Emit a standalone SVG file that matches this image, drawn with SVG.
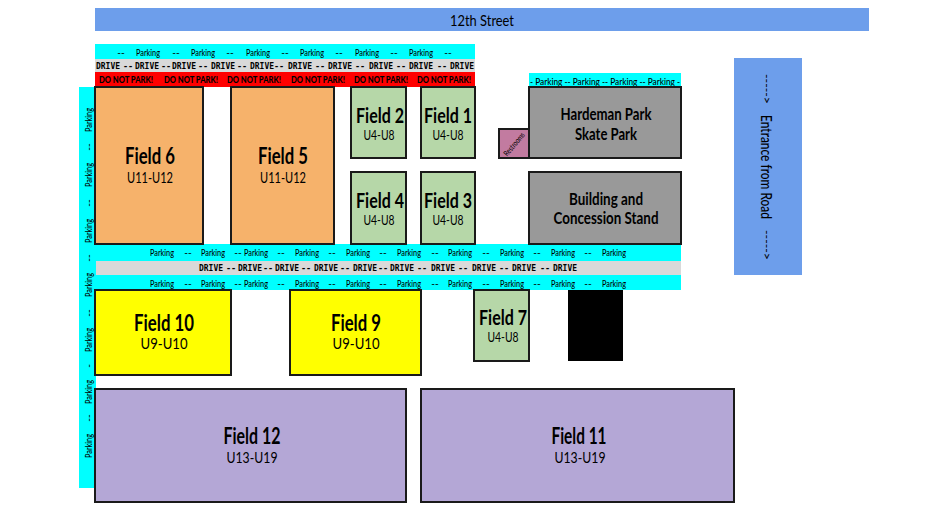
<svg xmlns="http://www.w3.org/2000/svg" width="940" height="516" viewBox="0 0 940 516">
<style>
text{font-family:"Lato","Liberation Sans",sans-serif;text-anchor:middle;dominant-baseline:central;fill:#000}
.f{stroke:#1a1a1a;stroke-width:2}
.t{font-size:22px;font-weight:700}
.t2{font-size:20px;font-weight:700}
.s{font-size:15px}
.s2{font-size:13px}
.p{font-size:10px;font-weight:500}
.d text{font-family:"DejaVu Sans Mono",monospace;font-size:8.500px;font-weight:700}
.n{font-size:9px;font-weight:900}
.h{font-size:17px;font-weight:700}
</style>
<rect width="940" height="516" fill="#fff"/>
<g id="roads">
<rect id="street" x="95" y="8" width="774" height="23" fill="#6d9eeb"/>
<text x="482" y="19" font-size="16" textLength="64" lengthAdjust="spacingAndGlyphs">12th Street</text>
<rect x="95" y="44" width="380" height="15" fill="#0ff"/>
<rect x="95" y="59" width="380" height="13" fill="#d9d9d9"/>
<rect x="95" y="72" width="380" height="15" fill="#f00"/>
<rect x="529" y="73" width="152" height="14" fill="#0ff"/>
<rect x="79" y="87" width="17" height="401" fill="#0ff"/>
<rect x="96" y="244" width="585" height="46" fill="#0ff"/>
<rect x="96" y="261" width="585" height="14" fill="#d9d9d9"/>
</g>
<g id="top-parking" class="p">
<text x="148" y="52" textLength="24" lengthAdjust="spacingAndGlyphs">Parking</text><text x="203" y="52" textLength="24" lengthAdjust="spacingAndGlyphs">Parking</text><text x="258" y="52" textLength="24" lengthAdjust="spacingAndGlyphs">Parking</text><text x="312" y="52" textLength="24" lengthAdjust="spacingAndGlyphs">Parking</text><text x="367" y="52" textLength="24" lengthAdjust="spacingAndGlyphs">Parking</text><text x="421" y="52" textLength="24" lengthAdjust="spacingAndGlyphs">Parking</text>
<text x="121" y="51.500">--</text><text x="176" y="51.500">--</text><text x="230" y="51.500">--</text><text x="285" y="51.500">--</text><text x="339" y="51.500">--</text><text x="394" y="51.500">--</text><text x="448" y="51.500">--</text>
</g>
<g id="top-drive" class="d">
<text x="108" y="65.500" textLength="24" lengthAdjust="spacingAndGlyphs">DRIVE</text><text x="147" y="65.500" textLength="24" lengthAdjust="spacingAndGlyphs">DRIVE</text><text x="184" y="65.500" textLength="24" lengthAdjust="spacingAndGlyphs">DRIVE</text><text x="223" y="65.500" textLength="24" lengthAdjust="spacingAndGlyphs">DRIVE</text><text x="262" y="65.500" textLength="24" lengthAdjust="spacingAndGlyphs">DRIVE</text><text x="300" y="65.500" textLength="24" lengthAdjust="spacingAndGlyphs">DRIVE</text><text x="340" y="65.500" textLength="24" lengthAdjust="spacingAndGlyphs">DRIVE</text><text x="381" y="65.500" textLength="24" lengthAdjust="spacingAndGlyphs">DRIVE</text><text x="421" y="65.500" textLength="24" lengthAdjust="spacingAndGlyphs">DRIVE</text><text x="462" y="65.500" textLength="24" lengthAdjust="spacingAndGlyphs">DRIVE</text>
<text x="128" y="65.500">--</text><text x="166" y="65.500">--</text><text x="203" y="65.500">--</text><text x="242" y="65.500">--</text><text x="279" y="65.500">--</text><text x="320" y="65.500">--</text><text x="360" y="65.500">--</text><text x="401" y="65.500">--</text><text x="442" y="65.500">--</text>
</g>
<g id="no-parking" class="n">
<text x="126" y="79.500" textLength="54" lengthAdjust="spacingAndGlyphs">DO NOT PARK!</text><text x="191" y="79.500" textLength="54" lengthAdjust="spacingAndGlyphs">DO NOT PARK!</text><text x="254" y="79.500" textLength="54" lengthAdjust="spacingAndGlyphs">DO NOT PARK!</text><text x="318" y="79.500" textLength="54" lengthAdjust="spacingAndGlyphs">DO NOT PARK!</text><text x="381" y="79.500" textLength="54" lengthAdjust="spacingAndGlyphs">DO NOT PARK!</text><text x="444" y="79.500" textLength="54" lengthAdjust="spacingAndGlyphs">DO NOT PARK!</text>
</g>
<g id="right-parking" class="p">
<text x="605" y="80.500" textLength="150" lengthAdjust="spacingAndGlyphs">- Parking -- Parking -- Parking -- Parking -</text>
</g>
<g id="left-parking" class="p">
<text transform="translate(88 120) rotate(-90)" textLength="24" lengthAdjust="spacingAndGlyphs">Parking</text><text transform="translate(88 175) rotate(-90)" textLength="24" lengthAdjust="spacingAndGlyphs">Parking</text><text transform="translate(88 231) rotate(-90)" textLength="24" lengthAdjust="spacingAndGlyphs">Parking</text><text transform="translate(88 285) rotate(-90)" textLength="24" lengthAdjust="spacingAndGlyphs">Parking</text><text transform="translate(88 340) rotate(-90)" textLength="24" lengthAdjust="spacingAndGlyphs">Parking</text><text transform="translate(88 392) rotate(-90)" textLength="24" lengthAdjust="spacingAndGlyphs">Parking</text><text transform="translate(88 446) rotate(-90)" textLength="24" lengthAdjust="spacingAndGlyphs">Parking</text>
<text transform="translate(88 147) rotate(-90)">--</text><text transform="translate(88 203) rotate(-90)">--</text><text transform="translate(88 258) rotate(-90)">--</text><text transform="translate(88 313) rotate(-90)">--</text><text transform="translate(88 366) rotate(-90)">-</text><text transform="translate(88 418) rotate(-90)">--</text>
</g>
<g id="middle-parking" class="p">
<text x="162" y="252" textLength="24" lengthAdjust="spacingAndGlyphs">Parking</text><text x="213" y="252" textLength="24" lengthAdjust="spacingAndGlyphs">Parking</text><text x="256" y="252" textLength="24" lengthAdjust="spacingAndGlyphs">Parking</text><text x="307" y="252" textLength="24" lengthAdjust="spacingAndGlyphs">Parking</text><text x="358" y="252" textLength="24" lengthAdjust="spacingAndGlyphs">Parking</text><text x="409" y="252" textLength="24" lengthAdjust="spacingAndGlyphs">Parking</text><text x="460" y="252" textLength="24" lengthAdjust="spacingAndGlyphs">Parking</text><text x="512" y="252" textLength="24" lengthAdjust="spacingAndGlyphs">Parking</text><text x="563" y="252" textLength="24" lengthAdjust="spacingAndGlyphs">Parking</text><text x="614" y="252" textLength="24" lengthAdjust="spacingAndGlyphs">Parking</text>
<text x="188" y="251.500">--</text><text x="238" y="251.500">--</text><text x="281" y="251.500">--</text><text x="332" y="251.500">--</text><text x="383" y="251.500">--</text><text x="435" y="251.500">--</text><text x="486" y="251.500">--</text><text x="537" y="251.500">--</text><text x="588" y="251.500">--</text>
<text x="162" y="283" textLength="24" lengthAdjust="spacingAndGlyphs">Parking</text><text x="213" y="283" textLength="24" lengthAdjust="spacingAndGlyphs">Parking</text><text x="256" y="283" textLength="24" lengthAdjust="spacingAndGlyphs">Parking</text><text x="307" y="283" textLength="24" lengthAdjust="spacingAndGlyphs">Parking</text><text x="358" y="283" textLength="24" lengthAdjust="spacingAndGlyphs">Parking</text><text x="409" y="283" textLength="24" lengthAdjust="spacingAndGlyphs">Parking</text><text x="460" y="283" textLength="24" lengthAdjust="spacingAndGlyphs">Parking</text><text x="512" y="283" textLength="24" lengthAdjust="spacingAndGlyphs">Parking</text><text x="563" y="283" textLength="24" lengthAdjust="spacingAndGlyphs">Parking</text><text x="614" y="283" textLength="24" lengthAdjust="spacingAndGlyphs">Parking</text>
<text x="188" y="282.500">--</text><text x="238" y="282.500">--</text><text x="281" y="282.500">--</text><text x="332" y="282.500">--</text><text x="383" y="282.500">--</text><text x="435" y="282.500">--</text><text x="486" y="282.500">--</text><text x="537" y="282.500">--</text><text x="588" y="282.500">--</text>
</g>
<g id="middle-drive" class="d">
<text x="211" y="268" textLength="24" lengthAdjust="spacingAndGlyphs">DRIVE</text><text x="250" y="268" textLength="24" lengthAdjust="spacingAndGlyphs">DRIVE</text><text x="287" y="268" textLength="24" lengthAdjust="spacingAndGlyphs">DRIVE</text><text x="326" y="268" textLength="24" lengthAdjust="spacingAndGlyphs">DRIVE</text><text x="365" y="268" textLength="24" lengthAdjust="spacingAndGlyphs">DRIVE</text><text x="402" y="268" textLength="24" lengthAdjust="spacingAndGlyphs">DRIVE</text><text x="443" y="268" textLength="24" lengthAdjust="spacingAndGlyphs">DRIVE</text><text x="484" y="268" textLength="24" lengthAdjust="spacingAndGlyphs">DRIVE</text><text x="524" y="268" textLength="24" lengthAdjust="spacingAndGlyphs">DRIVE</text><text x="565" y="268" textLength="24" lengthAdjust="spacingAndGlyphs">DRIVE</text>
<text x="231" y="268">--</text><text x="268" y="268">--</text><text x="306" y="268">--</text><text x="345" y="268">--</text><text x="383" y="268">--</text><text x="422" y="268">--</text><text x="463" y="268">--</text><text x="504" y="268">--</text><text x="545" y="268">--</text>
</g>
<g id="field6"><rect class="f" x="95" y="87" width="108" height="157" fill="#f6b26b"/><text class="t" x="150" y="155" textLength="50" lengthAdjust="spacingAndGlyphs">Field 6</text><text class="s" x="150" y="177" textLength="46" lengthAdjust="spacingAndGlyphs">U11-U12</text></g>
<g id="field5"><rect class="f" x="231" y="87" width="103" height="157" fill="#f6b26b"/><text class="t" x="283" y="155" textLength="50" lengthAdjust="spacingAndGlyphs">Field 5</text><text class="s" x="283" y="177" textLength="46" lengthAdjust="spacingAndGlyphs">U11-U12</text></g>
<g id="field2"><rect class="f" x="351" y="87" width="55" height="71" fill="#b6d7a8"/><text class="t2" x="380" y="115" textLength="48" lengthAdjust="spacingAndGlyphs">Field 2</text><text class="s2" x="379" y="135" textLength="31" lengthAdjust="spacingAndGlyphs">U4-U8</text></g>
<g id="field1"><rect class="f" x="421" y="87" width="54" height="71" fill="#b6d7a8"/><text class="t2" x="448" y="115" textLength="48" lengthAdjust="spacingAndGlyphs">Field 1</text><text class="s2" x="448" y="135" textLength="31" lengthAdjust="spacingAndGlyphs">U4-U8</text></g>
<g id="field4"><rect class="f" x="351" y="172" width="55" height="72" fill="#b6d7a8"/><text class="t2" x="380" y="200" textLength="48" lengthAdjust="spacingAndGlyphs">Field 4</text><text class="s2" x="379" y="220" textLength="31" lengthAdjust="spacingAndGlyphs">U4-U8</text></g>
<g id="field3"><rect class="f" x="421" y="172" width="54" height="72" fill="#b6d7a8"/><text class="t2" x="448" y="200" textLength="48" lengthAdjust="spacingAndGlyphs">Field 3</text><text class="s2" x="448" y="220" textLength="31" lengthAdjust="spacingAndGlyphs">U4-U8</text></g>
<g id="skate-park"><rect class="f" x="529" y="87" width="152" height="71" fill="#999"/><text class="h" x="606" y="113" textLength="91" lengthAdjust="spacingAndGlyphs">Hardeman Park</text><text class="h" x="606" y="133" textLength="62" lengthAdjust="spacingAndGlyphs">Skate Park</text></g>
<g id="restrooms"><rect class="f" x="499" y="129" width="30" height="29" fill="#c27ba0"/><text transform="translate(514 144) rotate(-50)" font-size="8" textLength="28" lengthAdjust="spacingAndGlyphs">Restrooms</text></g>
<g id="building"><rect class="f" x="529" y="172" width="152" height="72" fill="#999"/><text class="h" x="606" y="198" textLength="74" lengthAdjust="spacingAndGlyphs">Building and</text><text class="h" x="606" y="217.500" textLength="105" lengthAdjust="spacingAndGlyphs">Concession Stand</text></g>
<g id="field10"><rect class="f" x="95" y="290" width="136" height="85" fill="#ff0"/><text class="t" x="164" y="322" textLength="60" lengthAdjust="spacingAndGlyphs">Field 10</text><text class="s" x="164" y="343" textLength="47" lengthAdjust="spacingAndGlyphs">U9-U10</text></g>
<g id="field9"><rect class="f" x="290" y="290" width="131" height="85" fill="#ff0"/><text class="t" x="356" y="322" textLength="50" lengthAdjust="spacingAndGlyphs">Field 9</text><text class="s" x="356" y="343" textLength="47" lengthAdjust="spacingAndGlyphs">U9-U10</text></g>
<g id="field7"><rect class="f" x="474" y="290" width="55" height="71" fill="#b6d7a8"/><text class="t2" x="503" y="317" textLength="48" lengthAdjust="spacingAndGlyphs">Field 7</text><text class="s2" x="503" y="337" textLength="31" lengthAdjust="spacingAndGlyphs">U4-U8</text></g>
<g id="black-lot"><rect x="568" y="290" width="55" height="71" fill="#000"/></g>
<g id="field12"><rect class="f" x="95" y="389" width="311" height="113" fill="#b4a7d6"/><text class="t" x="252" y="435" textLength="57" lengthAdjust="spacingAndGlyphs">Field 12</text><text class="s" x="252" y="457" textLength="51" lengthAdjust="spacingAndGlyphs">U13-U19</text></g>
<g id="field11"><rect class="f" x="421" y="389" width="313" height="113" fill="#b4a7d6"/><text class="t" x="579" y="435" textLength="55" lengthAdjust="spacingAndGlyphs">Field 11</text><text class="s" x="580" y="457" textLength="51" lengthAdjust="spacingAndGlyphs">U13-U19</text></g>
<g id="entrance"><rect x="734" y="58" width="68" height="217" fill="#6d9eeb"/>
<text transform="translate(767 167) rotate(90)" font-size="15" font-weight="500" textLength="104" lengthAdjust="spacingAndGlyphs">Entrance from Road</text>
<text transform="translate(767 89) rotate(90)" font-size="12" textLength="30" lengthAdjust="spacingAndGlyphs">-----&gt;</text>
<text transform="translate(767 245) rotate(90)" font-size="12" textLength="30" lengthAdjust="spacingAndGlyphs">-----&gt;</text></g>
</svg>
